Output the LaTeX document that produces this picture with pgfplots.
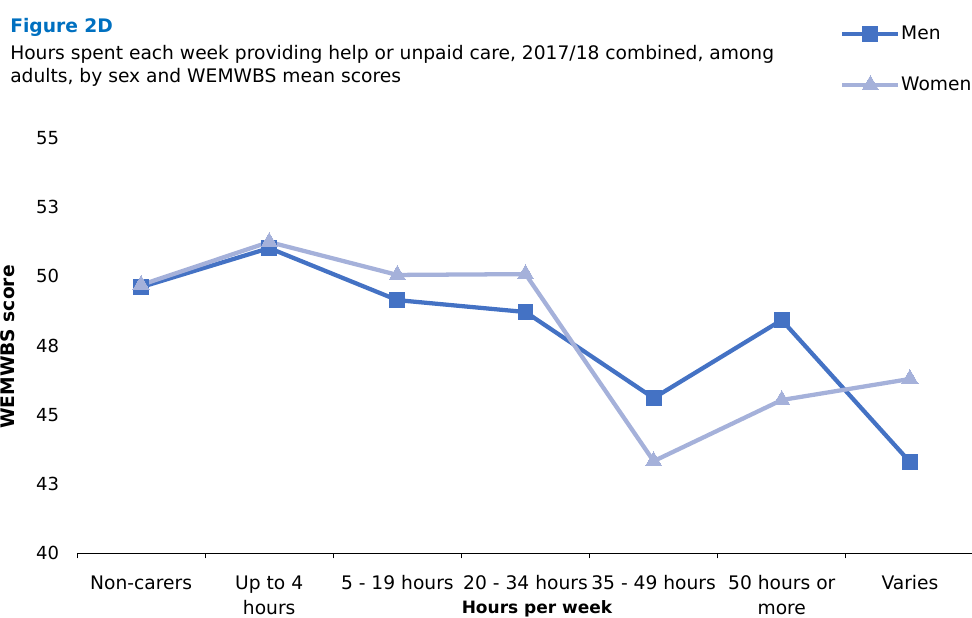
\documentclass[border=0pt]{standalone}
\usepackage{pgfplots}
\pgfplotsset{compat=1.18}
\usepackage{fontspec}
\setmainfont{DejaVu Sans}
\definecolor{menc}{HTML}{4472C4}
\definecolor{womenc}{HTML}{A5B1DA}
\definecolor{figblue}{HTML}{0070C0}
\begin{document}
\begin{tikzpicture}[x=0.75pt,y=0.75pt]
\useasboundingbox (0,0) rectangle (972,618);
\node[anchor=base west, inner sep=0, text=figblue, font=\fontsize{14}{16}\selectfont\bfseries] at (10,618-33) {Figure 2D};
\node[anchor=base west, inner sep=0, font=\fontsize{14}{16}\selectfont] at (10,618-60) {Hours spent each week providing help or unpaid care, 2017/18 combined, among};
\node[anchor=base west, inner sep=0, font=\fontsize{14}{16}\selectfont] at (10,618-83) {adults, by sex and WEMWBS mean scores};
\node[rotate=90, inner sep=0, font=\fontsize{14}{16}\selectfont\bfseries] at (8,618-347) {WEMWBS score};
\node[anchor=base, inner sep=0, font=\fontsize{12.75}{16}\selectfont\bfseries] at (537,618-614) {Hours per week};
\begin{axis}[
  at={(57.75pt,48.75pt)}, anchor=south west,
  scale only axis, width=672.75pt, height=311.25pt,
  xmin=-0.5, xmax=6.5, ymin=40, ymax=55,
  axis x line=bottom, axis y line=left,
  x axis line style={-, black, line width=0.6pt},
  y axis line style={draw=none},
  xtick={0,...,6},
  xticklabels={Non-carers,{Up to 4\\hours},5 - 19 hours,20 - 34 hours,35 - 49 hours,{50 hours or\\more},Varies},
  major x tick style={draw=none},
  major y tick style={draw=none},
  minor xtick={-0.5,0.5,...,6.5},
  minor tick length=4pt,
  tick align=outside,
  minor x tick style={black, line width=0.6pt},
  xticklabel style={align=center, anchor=north, inner sep=0pt, yshift=-12.5pt, font=\fontsize{14}{18.75}\selectfont},
  ytick={40,42.5,45,47.5,50,52.5,55},
  yticklabels={40,43,45,48,50,53,55},
  yticklabel style={anchor=east, inner sep=0pt, xshift=-9pt, font=\fontsize{13.5}{16}\selectfont},
  legend style={at={(0.8506,1.272)}, anchor=north west, draw=none, fill=none, inner sep=0pt, row sep=25pt, font=\fontsize{14}{16}\selectfont, nodes={inner sep=0.5pt}},
  legend cell align=left,
  legend image code/.code={\draw[mark repeat=2,mark phase=2,#1] plot coordinates {(0pt,0pt) (21pt,0pt) (42pt,0pt)};},
  clip=false,
]
\addplot[color=menc, line width=3.2pt, mark=square*, mark size=5.6pt, mark options={solid, fill=menc, line width=0pt}]
  coordinates {(0,49.61) (1,51.02) (2,49.14) (3,48.71) (4,45.60) (5,48.42) (6,43.29)};
\addlegendentry{Men}
\addplot[color=womenc, line width=3.2pt, mark=triangle*, mark size=7pt, mark options={solid, fill=womenc, line width=0pt}]
  coordinates {(0,49.69) (1,51.24) (2,50.05) (3,50.08) (4,43.32) (5,45.53) (6,46.29)};
\addlegendentry{Women}
\end{axis}
\end{tikzpicture}
\end{document}
